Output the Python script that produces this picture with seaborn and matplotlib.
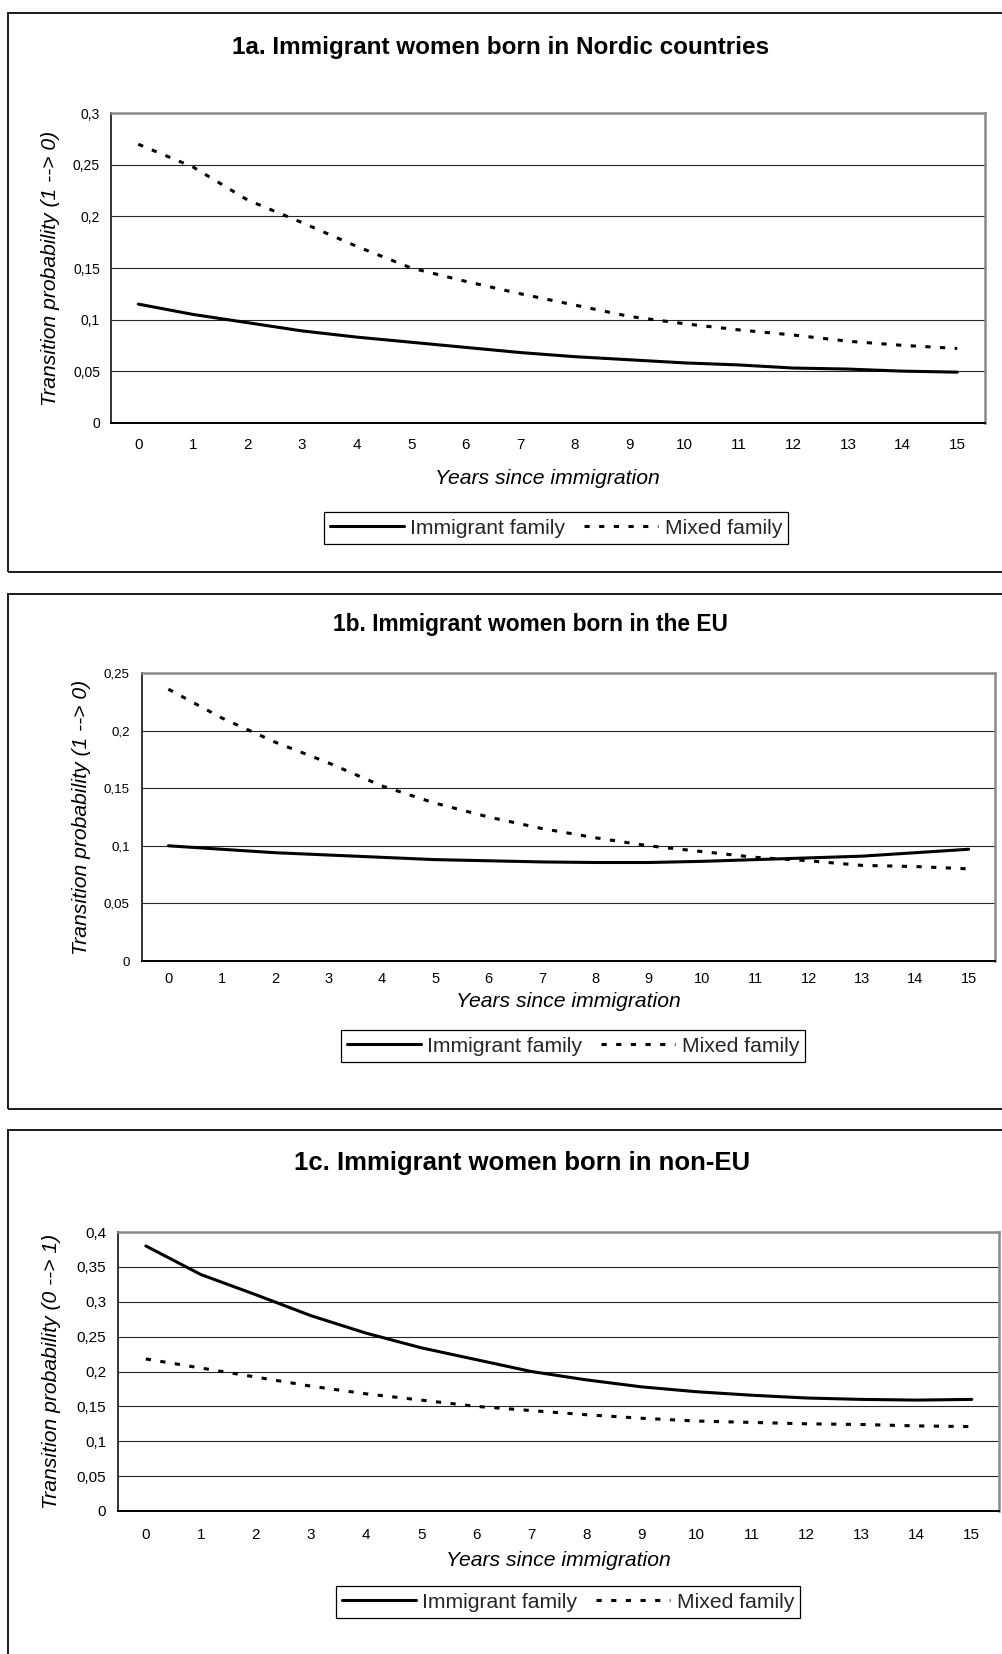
#!/usr/bin/env python3
"""
Transition probabilities by years since immigration, three stacked panels.
"""

import matplotlib

matplotlib.use("Agg")
import matplotlib.pyplot as plt
from matplotlib.patches import Rectangle
import numpy as np
import pandas as pd
import seaborn as sns


YEARS = list(range(16))
SERIES = ["Immigrant family", "Mixed family"]

NORDIC_IMMIGRANT = [0.115, 0.105, 0.097, 0.089, 0.083, 0.078, 0.073, 0.068,
                    0.064, 0.061, 0.058, 0.056, 0.053, 0.052, 0.050, 0.049]
NORDIC_MIXED = [0.270, 0.248, 0.216, 0.194, 0.171, 0.150, 0.137, 0.125,
                0.114, 0.103, 0.096, 0.090, 0.085, 0.079, 0.075, 0.072]

EU_IMMIGRANT = [0.100, 0.097, 0.094, 0.092, 0.090, 0.088, 0.087, 0.086,
                0.0855, 0.0855, 0.0865, 0.088, 0.0895, 0.091, 0.094, 0.097]
EU_MIXED = [0.236, 0.211, 0.190, 0.172, 0.152, 0.137, 0.125, 0.115,
            0.107, 0.100, 0.095, 0.090, 0.087, 0.083, 0.082, 0.080]

NONEU_IMMIGRANT = [0.380, 0.339, 0.310, 0.280, 0.255, 0.234, 0.217, 0.200,
                   0.188, 0.178, 0.171, 0.166, 0.162, 0.160, 0.159, 0.160]
NONEU_MIXED = [0.218, 0.205, 0.192, 0.179, 0.168, 0.159, 0.150, 0.144,
               0.138, 0.133, 0.129, 0.127, 0.125, 0.124, 0.122, 0.121]

TITLES = [
    "1a. Immigrant women born in Nordic countries",
    "1b. Immigrant women born in the EU",
    "1c. Immigrant women born in non-EU",
]
YLABELS = [
    "Transition probability (1 --> 0)",
    "Transition probability (1 --> 0)",
    "Transition probability (0 --> 1)",
]
XLABEL = "Years since immigration"
Y_TICKS = [
    [0, 0.05, 0.1, 0.15, 0.2, 0.25, 0.3],
    [0, 0.05, 0.1, 0.15, 0.2, 0.25],
    [0, 0.05, 0.1, 0.15, 0.2, 0.25, 0.3, 0.35, 0.4],
]
PANEL_DATA = [
    (NORDIC_IMMIGRANT, NORDIC_MIXED),
    (EU_IMMIGRANT, EU_MIXED),
    (NONEU_IMMIGRANT, NONEU_MIXED),
]

# Layout in reference pixels (1002 x 1654)
W, H = 1002, 1654
LAYOUT = [
    dict(frame=(13, 572), ax=(111, 984.5, 113.3, 422.7), title=(501, 47.5), title_fs=17.5,
         ylab_x=51, xlab_y=478.5, xtick_y=446.7, xtick_fs=11, ytick_fs=10,
         ytick_gap=11, leg=(556, 528)),
    dict(frame=(594, 1109), ax=(141.7, 995.3, 673, 961), title=(530, 624), title_fs=16.4,
         ylab_x=82, xlab_y=1001.7, xtick_y=980, xtick_fs=10.5, ytick_fs=9.6,
         ytick_gap=11.7, leg=(573, 1046.3)),
    dict(frame=(1130, 1680), ax=(118.3, 999.3, 1232, 1511), title=(522, 1163), title_fs=18.5,
         ylab_x=52, xlab_y=1560, xtick_y=1536.7, xtick_fs=11, ytick_fs=11,
         ytick_gap=12.3, leg=(568, 1602)),
]

LABEL_FS = 15.2
LINE_W = 2.2
TICK_LEN = 3.6
PX = 72 / 100  # points per pixel at dpi 100


def fmt(v):
    return "0" if v == 0 else f"{v:g}".replace(".", ",")


def main():
    sns.set_theme(style="white")
    plt.rcParams["font.family"] = ["Liberation Sans", "DejaVu Sans"]

    fig = plt.figure(figsize=(W / 100, H / 100), dpi=100)
    fig.patch.set_facecolor("white")

    for i, lay in enumerate(LAYOUT):
        top, bottom = lay["frame"]
        fig.add_artist(Rectangle(
            (8 / W, 1 - bottom / H), 1.2, (bottom - top) / H,
            transform=fig.transFigure, fill=False, ec="#1a1a1a", lw=1.4))

        x0, x1, y0, y1 = lay["ax"]
        ax = fig.add_axes([x0 / W, 1 - y1 / H, (x1 - x0) / W, (y1 - y0) / H])
        ax.set_facecolor("white")

        imm, mix = PANEL_DATA[i]
        df = pd.DataFrame({
            "year": YEARS * 2,
            "prob": list(imm) + list(mix),
            "family": [SERIES[0]] * len(YEARS) + [SERIES[1]] * len(YEARS),
        })
        sns.lineplot(data=df[df["family"] == SERIES[0]], x="year", y="prob",
                     ax=ax, color="black", lw=LINE_W, label=SERIES[0],
                     errorbar=None, legend=False)
        sns.lineplot(data=df[df["family"] == SERIES[1]], x="year", y="prob",
                     ax=ax, color="black", lw=LINE_W, label=SERIES[1],
                     linestyle=(0, (1.7, 3.1)), errorbar=None, legend=False)

        yt = Y_TICKS[i]
        ax.set_xlim(-0.5, 15.5)
        ax.set_ylim(0, yt[-1])
        ax.set_yticks(yt, [fmt(v) for v in yt])
        ax.set_xticks(YEARS, [str(y) for y in YEARS])
        ax.set_xticks(np.arange(-0.5, 16, 1), minor=True)

        ax.set_axisbelow(True)
        ax.yaxis.grid(True, color="#262626", lw=0.8)
        ax.xaxis.grid(False)

        for side in ("top", "right"):
            ax.spines[side].set_color("#8a8a8a")
            ax.spines[side].set_linewidth(1.8)
        ax.spines["left"].set_color("#333333")
        ax.spines["left"].set_linewidth(1.4)
        ax.spines["bottom"].set_color("black")
        ax.spines["bottom"].set_linewidth(1.4)

        xfs = lay["xtick_fs"]
        xpad = (lay["xtick_y"] - y1 - 0.55 * xfs / PX) * PX
        ax.tick_params(axis="x", which="major", length=0, pad=xpad,
                       labelsize=xfs, colors="black")
        ax.tick_params(axis="x", which="minor", length=TICK_LEN, width=1.0,
                       direction="out", color="black")
        ax.tick_params(axis="y", which="major", length=TICK_LEN, width=1.0,
                       direction="out", color="black",
                       pad=(lay["ytick_gap"] - 5) * PX,
                       labelsize=lay["ytick_fs"], labelcolor="black")

        ax.set_ylabel(YLABELS[i], fontsize=LABEL_FS, style="italic", color="black")
        ax.yaxis.label.set_va("center")
        ax.yaxis.set_label_coords((lay["ylab_x"] - x0) / (x1 - x0), 0.5)
        ax.set_xlabel(XLABEL, fontsize=LABEL_FS, style="italic", color="black")
        ax.xaxis.label.set_va("center")
        ax.xaxis.set_label_coords(0.5, -(lay["xlab_y"] - y1) / (y1 - y0))

        tx, ty = lay["title"]
        fig.text(tx / W, 1 - ty / H, TITLES[i], ha="center", va="center",
                 fontsize=lay["title_fs"], fontweight="bold", color="black")

        lx, ly = lay["leg"]
        leg = ax.legend(loc="center", bbox_to_anchor=(lx / W, 1 - ly / H),
                        bbox_transform=fig.transFigure, ncol=2, fontsize=LABEL_FS,
                        frameon=True, fancybox=False, shadow=False, framealpha=1,
                        edgecolor="black", borderpad=0.3, handletextpad=0.3,
                        columnspacing=0.9, handlelength=3.5, borderaxespad=0)
        leg.get_frame().set_linewidth(0.9)

    fig.savefig("out.png", dpi=100, facecolor="white")
    plt.close(fig)


if __name__ == "__main__":
    main()
